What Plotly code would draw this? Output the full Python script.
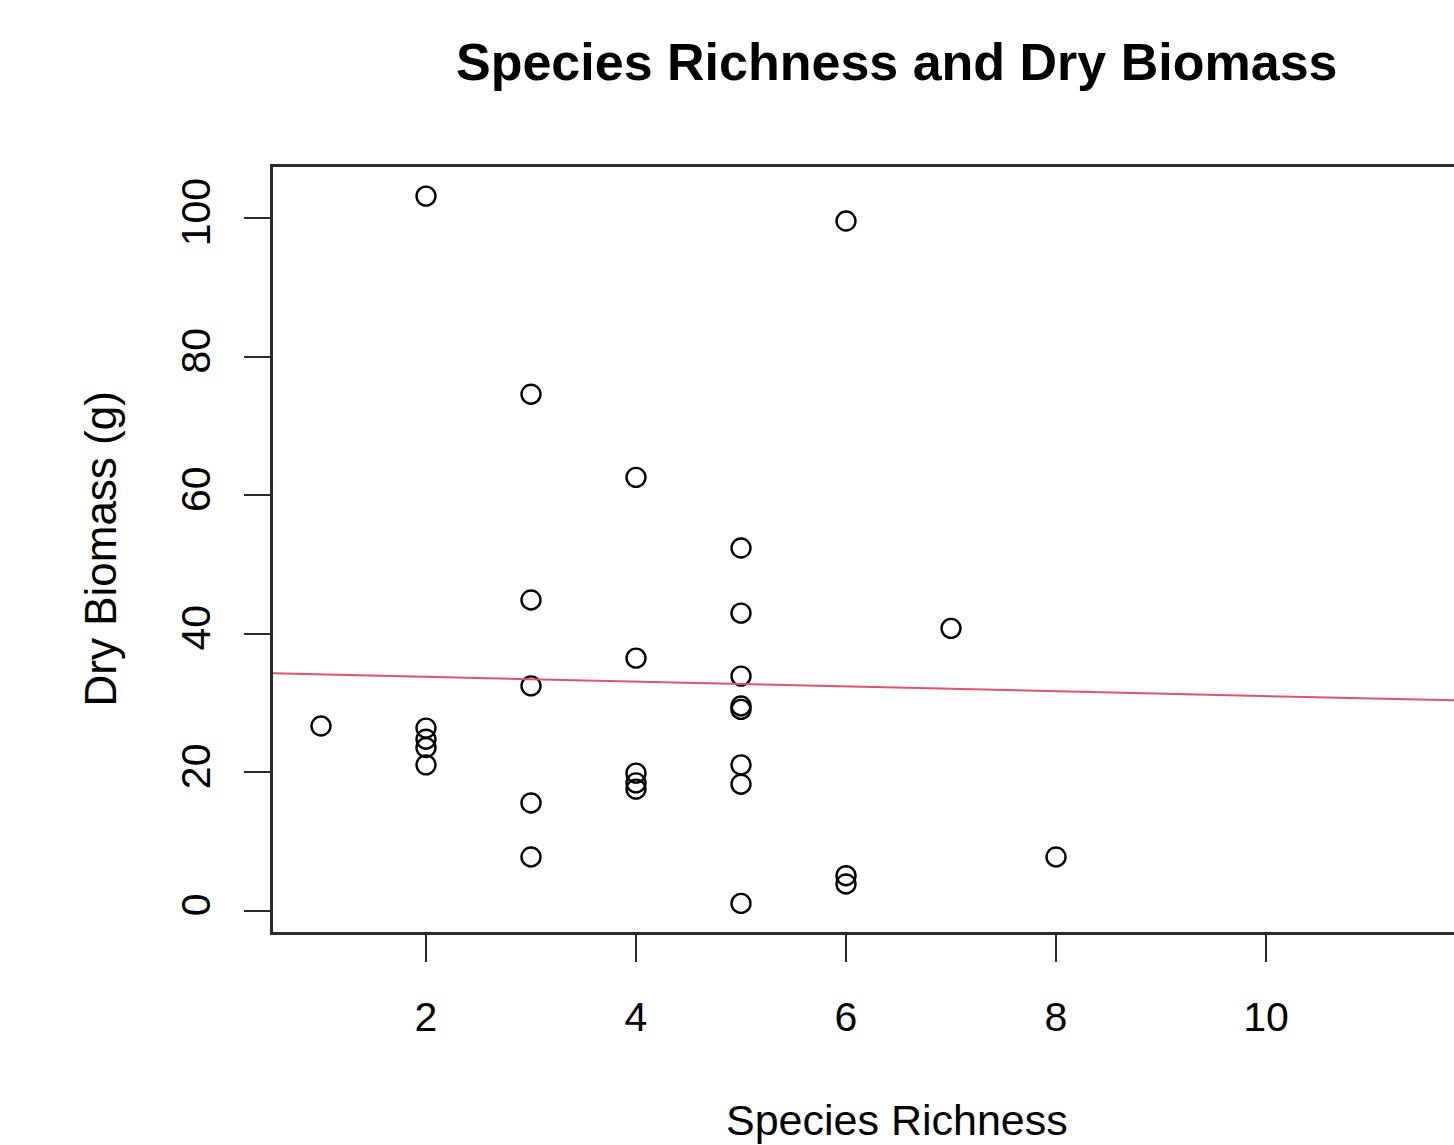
import plotly.graph_objects as go

# Data
richness = [1, 2, 2, 2, 2, 2, 3, 3, 3, 3, 3, 4, 4, 4, 4, 4,
            5, 5, 5, 5, 5, 5, 5, 5, 6, 6, 6, 7, 8]
biomass = [26.7, 103.2, 26.4, 24.8, 23.6, 21.1, 74.6, 44.9, 32.5, 15.6, 7.8,
           62.6, 36.5, 19.9, 18.5, 17.6,
           52.4, 43.0, 33.9, 29.6, 29.1, 21.1, 18.3, 1.1,
           99.6, 5.1, 3.9, 40.8, 7.8]
reg_intercept = 34.5
reg_slope = -0.347

x_ticks = [2, 4, 6, 8, 10, 12]
y_ticks = [0, 20, 40, 60, 80, 100]

x_range = [0.543, 11.79]
y_range = [-3.03, 107.4]

title_text = "Species Richness and Dry Biomass"
x_title = "Species Richness"
y_title = "Dry Biomass (g)"

W, H = 1454, 1145
ML, MR, MT, MB = 273, 0, 167, 213

font_family = "Liberation Sans, Arial, Helvetica, sans-serif"
axis_color = "#2a2a2a"

fig = go.Figure()

fig.add_trace(go.Scatter(
    x=richness, y=biomass, mode="markers",
    marker=dict(symbol="circle-open", size=19, color="black",
                line=dict(width=2.4, color="black")),
    showlegend=False, hoverinfo="x+y",
))

fig.add_trace(go.Scatter(
    x=x_range, y=[reg_intercept + reg_slope * v for v in x_range],
    mode="lines", line=dict(color="#DF536B", width=2),
    showlegend=False, hoverinfo="skip",
))

plot_w = W - ML - MR
plot_h = H - MT - MB

fig.update_layout(
    width=W, height=H,
    margin=dict(l=ML, r=MR, t=MT, b=MB, pad=0),
    paper_bgcolor="white", plot_bgcolor="white",
    font=dict(family=font_family, color="black", size=40),
    annotations=[
        dict(text="<b>" + title_text + "</b>", xref="paper", yref="paper",
             x=(897 - ML) / plot_w, y=1 + (MT - 62) / plot_h,
             xanchor="center", yanchor="middle", showarrow=False,
             font=dict(size=52, family=font_family, color="black")),
        dict(text=x_title, xref="paper", yref="paper",
             x=(897 - ML) / plot_w, y=-(1120 - (H - MB)) / plot_h,
             xanchor="center", yanchor="middle", showarrow=False,
             font=dict(size=43, family=font_family, color="black")),
        dict(text=y_title, xref="paper", yref="paper",
             x=-(ML - 100) / plot_w, y=0.5, textangle=-90,
             xanchor="center", yanchor="middle", showarrow=False,
             font=dict(size=44, family=font_family, color="black")),
    ],
)

fig.update_xaxes(
    range=x_range, tickvals=x_ticks, ticktext=[str(v) for v in x_ticks],
    showgrid=False, zeroline=False,
    showline=True, linecolor=axis_color, linewidth=2.5, mirror=True,
    ticks="outside", ticklen=27, tickwidth=2, tickcolor=axis_color,
    tickfont=dict(size=41, family=font_family, color="black"),
    ticklabelstandoff=20,
)
fig.update_yaxes(
    range=y_range, tickvals=y_ticks, ticktext=[str(v) for v in y_ticks],
    showgrid=False, zeroline=False,
    showline=True, linecolor=axis_color, linewidth=2.5, mirror=False,
    ticks="outside", ticklen=26, tickwidth=2, tickcolor=axis_color,
    tickangle=-90,
    tickfont=dict(size=41, family=font_family, color="black"),
    ticklabelstandoff=18,
)

fig.write_html(
    "out.html",
    config={"displayModeBar": False},
    post_script="document.body.style.margin='0';document.body.style.overflow='hidden';",
)
